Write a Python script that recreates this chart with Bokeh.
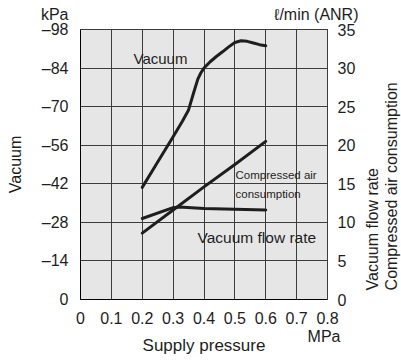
from bokeh.plotting import figure
from bokeh.models import Range1d, LinearAxis, Label, FixedTicker
from bokeh.core.properties import value
from bokeh.embed import file_html
from bokeh.resources import INLINE
import math

# ---- data ----
vac_pressure = [0.2, 0.25, 0.3, 0.33, 0.35, 0.365, 0.38, 0.39, 0.40, 0.42, 0.44, 0.46, 0.48, 0.50, 0.52, 0.54, 0.56, 0.58, 0.6]
vac_kpa = [40.7, 49.9, 59.1, 64.7, 68.8, 74.5, 80.0, 82.3, 84.0, 86.3, 88.2, 89.9, 91.7, 93.3, 93.9, 93.7, 93.1, 92.5, 92.1]

flow_pressure = [0.2, 0.3, 0.32, 0.4, 0.5, 0.6]
flow_rate = [10.5, 11.9, 12.0, 11.8, 11.7, 11.6]

air_pressure = [0.2, 0.3, 0.4, 0.5, 0.6]
air_consumption = [8.6, 11.6, 14.6, 17.5, 20.5]

x_ticks = [0, 0.1, 0.2, 0.3, 0.4, 0.5, 0.6, 0.7, 0.8]
x_tick_labels = ["0", "0.1", "0.2", "0.3", "0.4", "0.5", "0.6", "0.7", "0.8"]
kpa_ticks = [0, 14, 28, 42, 56, 70, 84, 98]
kpa_tick_labels = ["0", "\u201314", "\u201328", "\u201342", "\u201356", "\u201370", "\u201384", "\u201398"]
flow_ticks = [0, 5, 10, 15, 20, 25, 30, 35]

FONT = "Liberation Sans"
INK = "#1e1e1e"

p = figure(width=401, height=361, output_backend="svg", toolbar_location=None,
           x_range=Range1d(0, 0.8), y_range=Range1d(0, 98),
           min_border_left=80, min_border_right=74, min_border_top=29, min_border_bottom=62)
p.extra_y_ranges = {"flow": Range1d(0, 35)}
p.background_fill_color = "#e6e6e6"
p.border_fill_color = "white"
p.outline_line_color = "#3c3c3c"
p.outline_line_width = 1

# grid
p.xgrid.ticker = FixedTicker(ticks=x_ticks)
p.ygrid.ticker = FixedTicker(ticks=kpa_ticks)
for g in (p.xgrid, p.ygrid):
    g.grid_line_color = "#3c3c3c"
    g.grid_line_width = 1

def style_axis(ax, standoff):
    ax.major_label_text_font = FONT
    ax.major_label_text_font_size = "16px"
    ax.major_label_text_color = INK
    ax.major_label_standoff = standoff
    ax.major_tick_out = 0
    ax.major_tick_in = 0
    ax.minor_tick_out = 0
    ax.minor_tick_in = 0

# x axis
xa = p.xaxis[0]
xa.ticker = FixedTicker(ticks=x_ticks)
xa.major_label_overrides = dict(zip(x_ticks, x_tick_labels))
style_axis(xa, 12)
xa.axis_label = "Supply pressure"
xa.axis_label_text_font = FONT
xa.axis_label_text_font_size = "17px"
xa.axis_label_text_font_style = "normal"
xa.axis_label_text_color = INK
xa.axis_label_standoff = 9
xa.axis_line_color = "black"

# left axis
ya = p.yaxis[0]
ya.ticker = FixedTicker(ticks=kpa_ticks)
ya.major_label_overrides = dict(zip(kpa_ticks, kpa_tick_labels))
style_axis(ya, 12)
ya.axis_line_color = "black"

# right axis
ra = LinearAxis(y_range_name="flow", ticker=FixedTicker(ticks=flow_ticks))
style_axis(ra, 10)
ra.axis_line_color = "#3c3c3c"
p.add_layout(ra, "right")

# curves
p.line(vac_pressure, vac_kpa, line_color=INK, line_width=3, line_join="round", line_cap="round")
p.line(flow_pressure, flow_rate, y_range_name="flow", line_color=INK, line_width=3,
       line_join="round", line_cap="round")
p.line(air_pressure, air_consumption, y_range_name="flow", line_color=INK, line_width=3,
       line_join="round", line_cap="round")

def txt(text, x, y, size="16px", align="left", angle=0.0):
    p.text(x=[x], y=[y], text=[text], text_font=value(FONT), text_font_size=size,
           text_color=INK, text_align=align, text_baseline="middle", angle=angle,
           level="overlay")

# unit labels and axis titles (outside the frame)
txt("kPa", -0.0389, 103.4, align="right")
txt("\u2113/min (ANR)", 0.9004, 103.4, align="right")
txt("MPa", 0.842, -13.4, align="right")
txt("Vacuum", -0.2105, 49.0, align="center", angle=math.pi / 2)
txt("Vacuum flow rate", 0.9457, 3.3, align="left", angle=math.pi / 2)
txt("Compressed air consumption", 1.007, 3.3, align="left", angle=math.pi / 2)

# curve annotations
txt("Vacuum", 0.1717, 87.5, size="15px")
txt("Vacuum flow rate", 0.379, 22.6, size="15.5px")
txt("Compressed air", 0.502, 45.1, size="11.5px")
txt("consumption", 0.502, 38.2, size="11.5px")

open("out.html", "w").write(file_html(p, INLINE))
